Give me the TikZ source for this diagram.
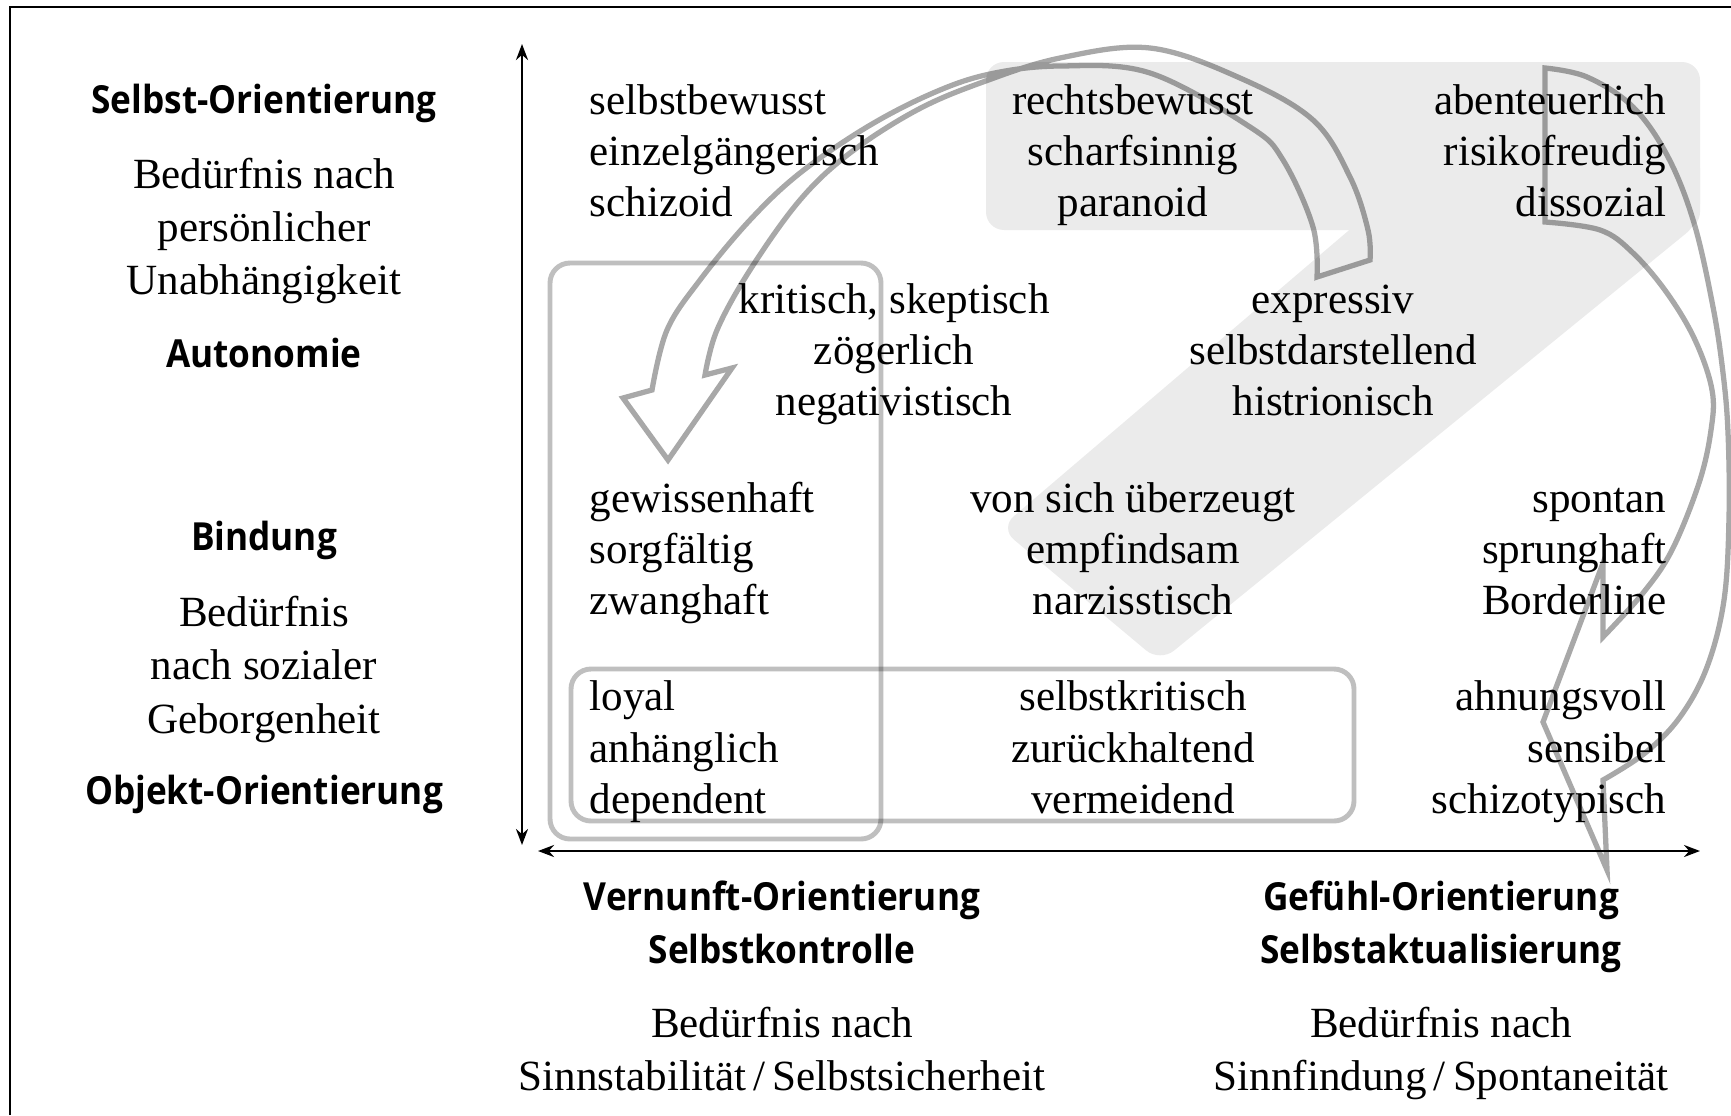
\documentclass[tikz,border=0pt]{standalone}
\usepackage{fontspec}
\setmainfont{Liberation Serif}
\newfontfamily\headfont{Open Sans}[FakeStretch=0.91]
\usetikzlibrary{arrows.meta}
\tikzset{
  ser/.style={inner sep=0pt, font=\fontsize{12.25}{14}\selectfont},
  lft/.style={ser, anchor=base west},
  ctr/.style={ser, anchor=base},
  rgt/.style={ser, anchor=base east},
  hd/.style={inner sep=0pt, anchor=base, font=\headfont\bfseries\fontsize{11}{13}\selectfont},
  boxline/.style={draw=black, draw opacity=0.25, line width=1.4pt, rounded corners=0.2cm},
  arrowline/.style={draw=black, draw opacity=0.34, line width=1.5pt, line join=miter},
  axisline/.style={line width=0.7pt, {Stealth[length=0.16cm,width=0.12cm]}-{Stealth[length=0.16cm,width=0.12cm]}},
  bandfill/.style={fill=black!8, rounded corners=0.18cm},
  frameline/.style={line width=0.6pt},
}
\begin{document}
\begin{tikzpicture}[x=0.01cm, y=-0.01cm]
\useasboundingbox (0,0) rectangle (1731,1115);
% frame
\draw[frameline] (9.6,1115) -- (9.6,6.7) -- (1731,6.7);
% grey band
\fill[bandfill] (986,62) rectangle (1700,230);
\fill[bandfill] (1443,150) -- (1700,150) -- (1700,222) -- (1160,662) -- (1000,528) -- cycle;
% boxes
\draw[boxline] (550,263) rectangle (881,839);
\draw[boxline] (571,669) rectangle (1354,821);
% left curved arrow
\draw[arrowline] (1370,260) -- (1317,277)
  -- plot[smooth, tension=0.6] coordinates {(1317,277) (1313,227) (1283,160) (1250,127) (1150,73) (1060,66) (990,74) (933,93) (867,127) (800,173) (750,220) (700,280) (667,330) (652,390)}
  -- (623,398) -- (668,460) -- (732,368) -- (705,375)
  -- plot[smooth, tension=0.6] coordinates {(705,375) (717,330) (750,270) (800,200) (850,153) (917,110) (983,82) (1060,58) (1150,48) (1240,78) (1313,120) (1350,177) (1368,230) (1370,260)}
  -- cycle;
% right curved arrow
\draw[arrowline] (1545,68) -- (1545,222)
  -- plot[smooth, tension=0.6] coordinates {(1545,222) (1600,230) (1633,253) (1667,293) (1695,340) (1712,390) (1711,430) (1699,483) (1672,550) (1643,593) (1603,637)}
  -- (1603,563) -- (1543,722) -- (1607,870) -- (1603,780)
  -- plot[smooth, tension=0.6] coordinates {(1603,780) (1645,753) (1680,717) (1707,667) (1724,600) (1729,517) (1728,433) (1723,373) (1713,307) (1694,223) (1668,157) (1633,107) (1587,77) (1545,68)}
  -- cycle;
% axes
\coordinate (vtop) at (522,44);
\coordinate (vbot) at (522,845);
\coordinate (hleft) at (538,851);
\coordinate (hright) at (1700,851);
\draw[axisline] (vbot) -- (vtop);
\draw[axisline] (hleft) -- (hright);
% left column
\node[hd]  (so)  at (264,113)   {Selbst-Orientierung};
\node[ctr] (so1) at (264,188.5) {Bedürfnis nach};
\node[ctr] (so2) at (264,241.5) {persönlicher};
\node[ctr] (so3) at (264,294.5) {Unabhängigkeit};
\node[hd]  (au)  at (264,367)   {Autonomie};
\node[hd]  (bi)  at (264,550)   {Bindung};
\node[ctr] (ob1) at (264,626.5) {Bedürfnis};
\node[ctr] (ob2) at (264,679.5) {nach sozialer};
\node[ctr] (ob3) at (264,733)   {Geborgenheit};
\node[hd]  (oo)  at (264,804)   {Objekt-Orientierung};
% row 1
\node[lft] (a1) at (589,114) {selbstbewusst};
\node[lft] (a2) at (589,165) {einzelgängerisch};
\node[lft] (a3) at (589,216) {schizoid};
\node[ctr] (b1) at (1133,114) {rechtsbewusst};
\node[ctr] (b2) at (1133,165) {scharfsinnig};
\node[ctr] (b3) at (1133,216) {paranoid};
\node[rgt] (c1) at (1667,114) {abenteuerlich};
\node[rgt] (c2) at (1667,165) {risikofreudig};
\node[rgt] (c3) at (1667,216) {dissozial};
% row 2
\node[ctr] (d1) at (894,313) {kritisch, skeptisch};
\node[ctr] (d2) at (894,364) {zögerlich};
\node[ctr] (d3) at (894,415) {negativistisch};
\node[ctr] (e1) at (1333,313) {expressiv};
\node[ctr] (e2) at (1333,364) {selbstdarstellend};
\node[ctr] (e3) at (1333,415) {histrionisch};
% row 3
\node[lft] (f1) at (589,512) {gewissenhaft};
\node[lft] (f2) at (589,563) {sorgfältig};
\node[lft] (f3) at (589,614) {zwanghaft};
\node[ctr] (g1) at (1133,512) {von sich überzeugt};
\node[ctr] (g2) at (1133,563) {empfindsam};
\node[ctr] (g3) at (1133,614) {narzisstisch};
\node[rgt] (h1) at (1667,512) {spontan};
\node[rgt] (h2) at (1667,563) {sprunghaft};
\node[rgt] (h3) at (1667,614) {Borderline};
% row 4
\node[lft] (i1) at (589,710) {loyal};
\node[lft] (i2) at (589,762) {anhänglich};
\node[lft] (i3) at (589,813) {dependent};
\node[ctr] (j1) at (1133,710) {selbstkritisch};
\node[ctr] (j2) at (1133,762) {zurückhaltend};
\node[ctr] (j3) at (1133,813) {vermeidend};
\node[rgt] (k1) at (1667,710) {ahnungsvoll};
\node[rgt] (k2) at (1667,762) {sensibel};
\node[rgt] (k3) at (1667,813) {schizotypisch};
% bottom
\node[hd]  (vo)  at (782,910)  {Vernunft-Orientierung};
\node[hd]  (sk)  at (782,963)  {Selbstkontrolle};
\node[ctr] (vb1) at (782,1037) {Bedürfnis nach};
\node[ctr] (vb2) at (782,1090) {Sinnstabilität\,/\,Selbstsicherheit};
\node[hd]  (go)  at (1441,910)  {Gefühl-Orientierung};
\node[hd]  (sa)  at (1441,963)  {Selbstaktualisierung};
\node[ctr] (gb1) at (1441,1037) {Bedürfnis nach};
\node[ctr] (gb2) at (1441,1090) {Sinnfindung\,/\,Spontaneität};
\end{tikzpicture}
\end{document}
